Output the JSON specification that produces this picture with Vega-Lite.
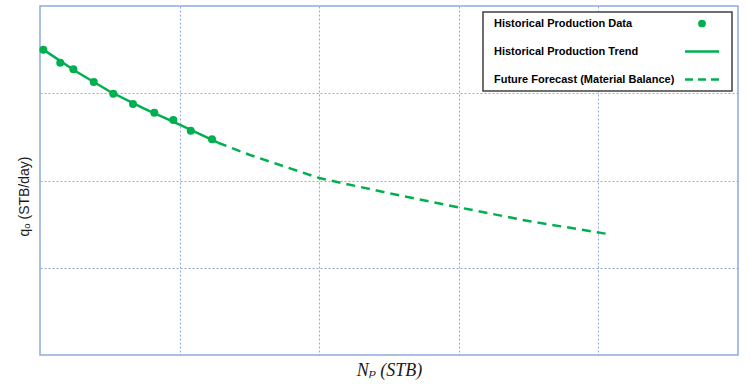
{
  "$schema": "https://vega.github.io/schema/vega-lite/v6.json",
  "width": 698,
  "height": 349,
  "autosize": "none",
  "padding": {"left": 40, "top": 6, "right": 12, "bottom": 35},
  "background": "white",
  "config": {
    "view": {"stroke": "#8FAADC", "strokeWidth": 1.5},
    "axis": {
      "labels": false,
      "ticks": false,
      "domain": false,
      "grid": true,
      "gridColor": "#8FAADC",
      "gridDash": [2, 2],
      "gridWidth": 1,
      "gridOpacity": 1
    }
  },
  "datasets": {
    "hist": [
      {"np": 0.024, "q": 3.499, "series": "Historical Production Data"},
      {"np": 0.145, "q": 3.35, "series": "Historical Production Data"},
      {"np": 0.239, "q": 3.274, "series": "Historical Production Data"},
      {"np": 0.385, "q": 3.129, "series": "Historical Production Data"},
      {"np": 0.525, "q": 2.995, "series": "Historical Production Data"},
      {"np": 0.666, "q": 2.877, "series": "Historical Production Data"},
      {"np": 0.819, "q": 2.777, "series": "Historical Production Data"},
      {"np": 0.955, "q": 2.693, "series": "Historical Production Data"},
      {"np": 1.08, "q": 2.571, "series": "Historical Production Data"},
      {"np": 1.232, "q": 2.472, "series": "Historical Production Data"}
    ],
    "trend": [
      {"np": 0.024, "q": 3.5, "series": "Historical Production Trend"},
      {"np": 0.25, "q": 3.258, "series": "Historical Production Trend"},
      {"np": 0.5, "q": 3.02, "series": "Historical Production Trend"},
      {"np": 0.75, "q": 2.822, "series": "Historical Production Trend"},
      {"np": 1.0, "q": 2.64, "series": "Historical Production Trend"},
      {"np": 1.275, "q": 2.433, "series": "Historical Production Trend"}
    ],
    "forecast": [
      {"np": 1.275, "q": 2.433, "series": "Future Forecast (Material Balance)"},
      {"np": 1.5, "q": 2.295, "series": "Future Forecast (Material Balance)"},
      {"np": 2.0, "q": 2.028, "series": "Future Forecast (Material Balance)"},
      {"np": 2.5, "q": 1.854, "series": "Future Forecast (Material Balance)"},
      {"np": 3.0, "q": 1.692, "series": "Future Forecast (Material Balance)"},
      {"np": 3.5, "q": 1.535, "series": "Future Forecast (Material Balance)"},
      {"np": 4.083, "q": 1.383, "series": "Future Forecast (Material Balance)"}
    ]
  },
  "encoding": {
    "x": {
      "field": "np",
      "type": "quantitative",
      "scale": {"domain": [0, 5], "nice": false, "zero": false},
      "axis": {
        "title": "Nₚ (STB)",
        "values": [1, 2, 3, 4],
        "titleFont": "Liberation Serif, DejaVu Serif",
        "titleFontStyle": "italic",
        "titleFontWeight": "normal",
        "titleFontSize": 18,
        "titleColor": "#1a1a1a",
        "titlePadding": 6
      }
    },
    "y": {
      "field": "q",
      "type": "quantitative",
      "scale": {"domain": [0, 4], "nice": false, "zero": false},
      "axis": {
        "title": "qₒ (STB/day)",
        "values": [1, 2, 3],
        "titleFont": "Liberation Sans, DejaVu Sans",
        "titleFontWeight": "normal",
        "titleFontSize": 14,
        "titleColor": "#1a1a1a",
        "titlePadding": 9,
        "titleY": 190
      }
    },
    "color": {
      "field": "series",
      "type": "nominal",
      "scale": {
        "domain": ["Historical Production Data", "Historical Production Trend", "Future Forecast (Material Balance)"],
        "range": ["#00B050", "#00B050", "#00B050"]
      },
      "legend": {
        "title": null,
        "orient": "top-right",
        "offset": 6,
        "padding": 6,
        "strokeColor": "#404040",
        "fillColor": "white",
        "labelFont": "Liberation Sans, Arial",
        "labelFontSize": 11,
        "labelFontWeight": "bold",
        "labelColor": "black",
        "labelLimit": 400,
        "rowPadding": 16,
        "symbolSize": 100,
        "encode": {
          "legend": {"update": {"strokeWidth": {"value": 1.5}}},
          "symbols": {
            "update": {
              "x": {"value": 213},
              "shape": {"signal": "datum.value === 'Historical Production Data' ? 'circle' : 'stroke'"},
              "size": {"signal": "datum.value === 'Historical Production Data' ? 60 : datum.value === 'Historical Production Trend' ? 1156 : 1444"},
              "fill": {"signal": "datum.value === 'Historical Production Data' ? '#00B050' : 'transparent'"},
              "stroke": {"value": "#00B050"},
              "strokeWidth": {"signal": "datum.value === 'Historical Production Data' ? 0 : 2.5"},
              "strokeDash": {"signal": "datum.value === 'Future Forecast (Material Balance)' ? [0, 2, 8, 5, 8, 5, 8, 2] : [1, 0]"},
              "opacity": {"value": 1}
            }
          },
          "labels": {"update": {"x": {"value": 5}}}
        }
      }
    }
  },
  "layer": [
    {
      "data": {"name": "trend"},
      "mark": {"type": "line", "strokeWidth": 2.5}
    },
    {
      "data": {"name": "forecast"},
      "mark": {"type": "line", "strokeWidth": 2.5, "strokeDash": [9, 6]}
    },
    {
      "data": {"name": "hist"},
      "mark": {"type": "point", "filled": true, "size": 64, "opacity": 1}
    }
  ]
}
